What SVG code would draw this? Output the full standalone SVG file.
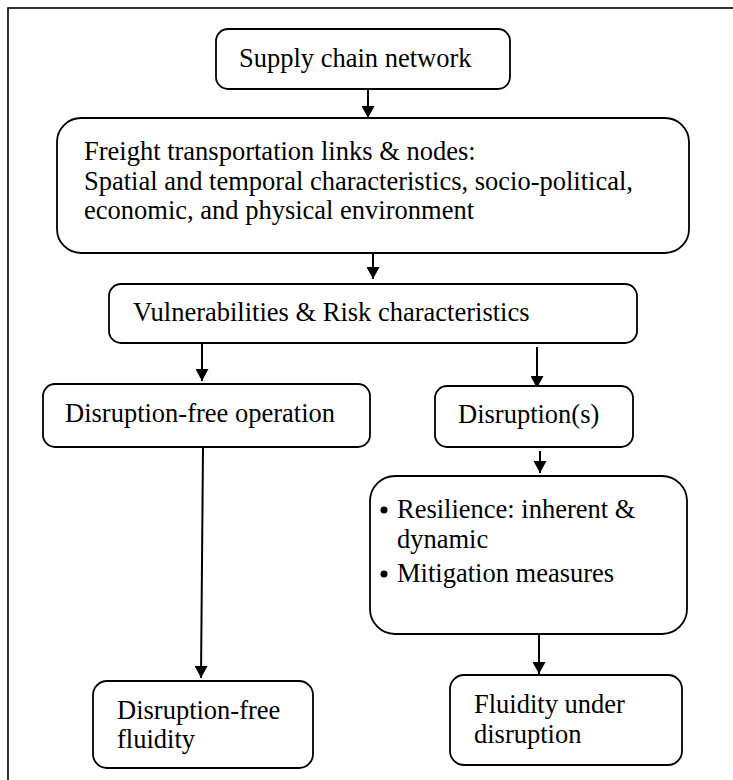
<svg xmlns="http://www.w3.org/2000/svg" width="733" height="780" viewBox="0 0 733 780">
<style>
.box{fill:#fff;stroke:#000;stroke-width:1.8}
.t{font-family:"Liberation Serif","Times New Roman",serif;font-size:26.5px;fill:#000}
.c{stroke:#000;stroke-width:2;fill:none;marker-end:url(#ah)}
</style>
<defs>
<marker id="ah" viewBox="0 0 12 13" refX="12" refY="6.5" markerWidth="12" markerHeight="13" markerUnits="userSpaceOnUse" orient="auto">
<path d="M0,0 L12,6.5 L0,13 z" fill="#000"/>
</marker>
</defs>
<rect x="0" y="0" width="733" height="780" fill="#fff"/>
<rect x="8" y="8" width="740" height="790" fill="none" stroke="#000" stroke-width="1.6"/>
<g id="connectors">
<line class="c" x1="368" y1="89" x2="368" y2="118"/>
<line class="c" x1="373" y1="253" x2="373" y2="279"/>
<line class="c" x1="202" y1="343" x2="202" y2="381"/>
<line class="c" x1="537" y1="347" x2="537" y2="388"/>
<line class="c" x1="540" y1="451" x2="540" y2="473"/>
<line class="c" x1="203" y1="447" x2="201" y2="678"/>
<line class="c" x1="539" y1="634" x2="539" y2="674"/>
</g>
<g id="supply-chain">
<rect class="box" x="216" y="29" width="294" height="60" rx="12"/>
<text class="t" x="239" y="67">Supply chain network</text>
</g>
<g id="freight">
<rect class="box" x="57" y="118" width="632" height="135" rx="24"/>
<text class="t" x="84" y="160">Freight transportation links &amp; nodes:</text>
<text class="t" x="84" y="190">Spatial and temporal characteristics, socio-political,</text>
<text class="t" x="84" y="219">economic, and physical environment</text>
</g>
<g id="vulnerabilities">
<rect class="box" x="109" y="284" width="528" height="59" rx="12"/>
<text class="t" x="133" y="321">Vulnerabilities &amp; Risk characteristics</text>
</g>
<g id="disruption-free-operation">
<rect class="box" x="43" y="384" width="327" height="63" rx="12"/>
<text class="t" x="65" y="422">Disruption-free operation</text>
</g>
<g id="disruptions">
<rect class="box" x="435" y="386" width="198" height="61" rx="12"/>
<text class="t" x="458" y="423">Disruption(s)</text>
</g>
<g id="resilience">
<rect class="box" x="370" y="476" width="317" height="158" rx="25"/>
<circle cx="384" cy="510" r="3.5" fill="#000"/>
<text class="t" x="397" y="518">Resilience: inherent &amp;</text>
<text class="t" x="397" y="548">dynamic</text>
<circle cx="384" cy="574" r="3.5" fill="#000"/>
<text class="t" x="397" y="582">Mitigation measures</text>
</g>
<g id="disruption-free-fluidity">
<rect class="box" x="93" y="681" width="220" height="87" rx="14"/>
<text class="t" x="117" y="719">Disruption-free</text>
<text class="t" x="117" y="748">fluidity</text>
</g>
<g id="fluidity-under-disruption">
<rect class="box" x="450" y="675" width="232" height="90" rx="14"/>
<text class="t" x="474" y="713">Fluidity under</text>
<text class="t" x="474" y="743">disruption</text>
</g>
</svg>
